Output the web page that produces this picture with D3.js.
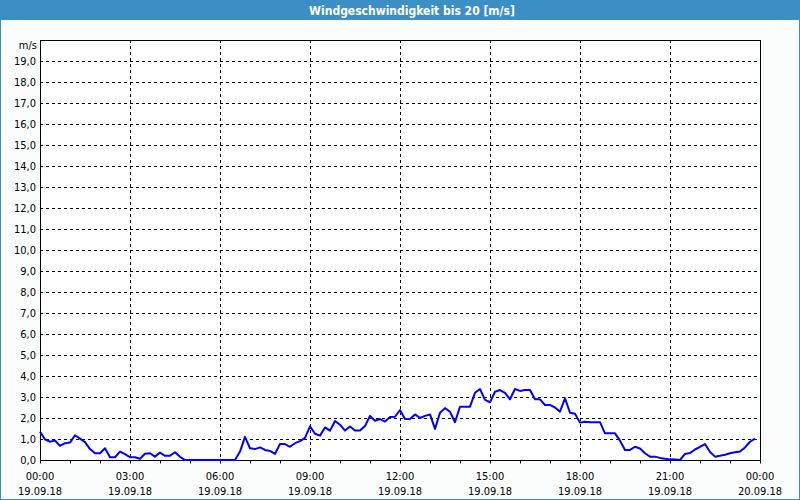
<!DOCTYPE html>
<html><head><meta charset="utf-8">
<script src="https://cdn.jsdelivr.net/npm/d3@7"></script>
<style>
html,body{margin:0;padding:0;background:#fbfdfc;}
svg{display:block;}
text{font-family:"DejaVu Sans Condensed","DejaVu Sans",Tahoma,sans-serif;}
</style></head><body>
<script>
const title = "Windgeschwindigkeit bis 20 [m/s]";
const unitLabel = "m/s";
const startTime = "2018-09-19T00:00";
const endTime = "2018-09-20T00:00";
const stepMinutes = 10;
const speed = [
1.35,0.98,0.87,0.93,0.67,0.8,0.83,1.18,1.02,0.85,
0.52,0.32,0.32,0.56,0.13,0.13,0.4,0.28,0.13,0.13,
0.06,0.3,0.32,0.16,0.35,0.2,0.2,0.37,0.15,0,
0,0,0,0,0,0,0,0,0,0,
0.4,1.1,0.56,0.52,0.6,0.48,0.43,0.29,0.76,0.76,
0.63,0.8,0.9,1.05,1.6,1.25,1.16,1.55,1.4,1.86,
1.68,1.4,1.6,1.4,1.4,1.62,2.1,1.87,1.95,1.83,
2.05,2.06,2.38,1.95,1.95,2.17,2.0,2.1,2.17,1.48,
2.25,2.47,2.3,1.8,2.54,2.54,2.54,3.2,3.38,2.86,
2.75,3.25,3.33,3.2,2.89,3.38,3.29,3.33,3.33,2.89,
2.89,2.62,2.62,2.5,2.3,2.94,2.25,2.2,1.78,1.82,
1.8,1.8,1.8,1.27,1.27,1.27,0.92,0.48,0.48,0.63,
0.55,0.32,0.16,0.16,0.1,0.06,0.03,0.02,0,0.29,
0.33,0.5,0.63,0.76,0.38,0.16,0.2,0.25,0.32,0.37,
0.4,0.6,0.87,1.02];
const yTicks = [0,1,2,3,4,5,6,7,8,9,10,11,12,13,14,15,16,17,18,19];
const xTickHours = [0,3,6,9,12,15,18,21,24];

const W = 800, H = 500;
const m = {left:40, right:40, top:40, bottom:40};
const svg = d3.select("body").append("svg").attr("width",W).attr("height",H);

// frame & title bar
svg.append("rect").attr("x",0).attr("y",0).attr("width",W).attr("height",H).attr("fill","#fbfdfc");
svg.append("rect").attr("x",0.5).attr("y",0.5).attr("width",W-1).attr("height",H-1)
  .attr("fill","none").attr("stroke","#3c8fc5").attr("stroke-width",1);
svg.append("rect").attr("x",0).attr("y",0).attr("width",W).attr("height",20).attr("fill","#3c8fc5");
svg.append("text").attr("x",412).attr("y",15).attr("text-anchor","middle")
  .attr("fill","#ffffff").attr("font-weight","bold").attr("font-size",12).text(title);

const t0 = new Date(startTime), t1 = new Date(endTime);
const x = d3.scaleTime().domain([t0,t1]).range([m.left, W - m.right]);
const y = d3.scaleLinear().domain([0,20]).range([H - m.bottom, m.top]);

const data = speed.map((v,i)=>({t:new Date(t0.getTime()+i*stepMinutes*60000), v}));

// plot background
svg.append("rect").attr("x",m.left).attr("y",m.top).attr("width",W-m.left-m.right).attr("height",H-m.top-m.bottom).attr("fill","#ffffff");

// grid
const g = svg.append("g");
g.selectAll("line.h").data(yTicks.filter(d=>d>0)).join("line")
  .attr("x1",m.left).attr("x2",W-m.right)
  .attr("y1",d=>Math.round(y(d))+0.5).attr("y2",d=>Math.round(y(d))+0.5)
  .attr("stroke","#000").attr("stroke-dasharray","3,3").attr("stroke-width",1);
const hourDate = h => new Date(t0.getTime()+h*3600000);
g.selectAll("line.v").data(xTickHours.filter(h=>h>0&&h<24)).join("line")
  .attr("x1",h=>Math.round(x(hourDate(h)))+0.5).attr("x2",h=>Math.round(x(hourDate(h)))+0.5)
  .attr("y1",m.top).attr("y2",H-m.bottom)
  .attr("stroke","#000").attr("stroke-dasharray","3,3").attr("stroke-width",1);

// y axis labels
const yAxis = d3.axisLeft(y).tickValues(yTicks).tickSize(0).tickPadding(4)
  .tickFormat(d=>d3.format(".1f")(d).replace(".",","));
const ya = svg.append("g").attr("transform",`translate(${m.left},0)`).call(yAxis);
ya.select(".domain").remove();
ya.selectAll("text").attr("font-size",11).attr("fill","#000").attr("font-family","DejaVu Sans Condensed, DejaVu Sans, sans-serif");
svg.append("text").attr("x",37).attr("y",49).attr("text-anchor","end").attr("font-size",11).attr("fill","#000").text(unitLabel);

// x axis: hourly minor ticks
const xAxisMinor = d3.axisBottom(x).ticks(d3.timeHour.every(1)).tickSize(3).tickFormat("");
const xm = svg.append("g").attr("transform",`translate(0,${H-m.bottom+0.5})`).call(xAxisMinor);
xm.select(".domain").remove();
xm.selectAll("line").attr("stroke","#000");

// x labels
const fmtT = d3.timeFormat("%H:%M"), fmtD = d3.timeFormat("%d.%m.%y");
const xl = svg.append("g");
xTickHours.forEach(h=>{
  const d = hourDate(h), px = x(d);
  xl.append("text").attr("x",px).attr("y",480).attr("text-anchor","middle").attr("font-size",11).text(fmtT(d));
  xl.append("text").attr("x",px).attr("y",495).attr("text-anchor","middle").attr("font-size",11).text(fmtD(d));
});

// frame
svg.append("rect").attr("x",m.left+0.5).attr("y",m.top+0.5).attr("width",W-m.left-m.right).attr("height",H-m.top-m.bottom)
  .attr("fill","none").attr("stroke","#000").attr("stroke-width",1);

// data line
const line = d3.line().x(d=>x(d.t)).y(d=>y(d.v));
svg.append("path").datum(data).attr("d",line).attr("fill","none").attr("stroke","#0000ff").attr("stroke-width",2).attr("stroke-linejoin","round");
</script>
</body></html>
